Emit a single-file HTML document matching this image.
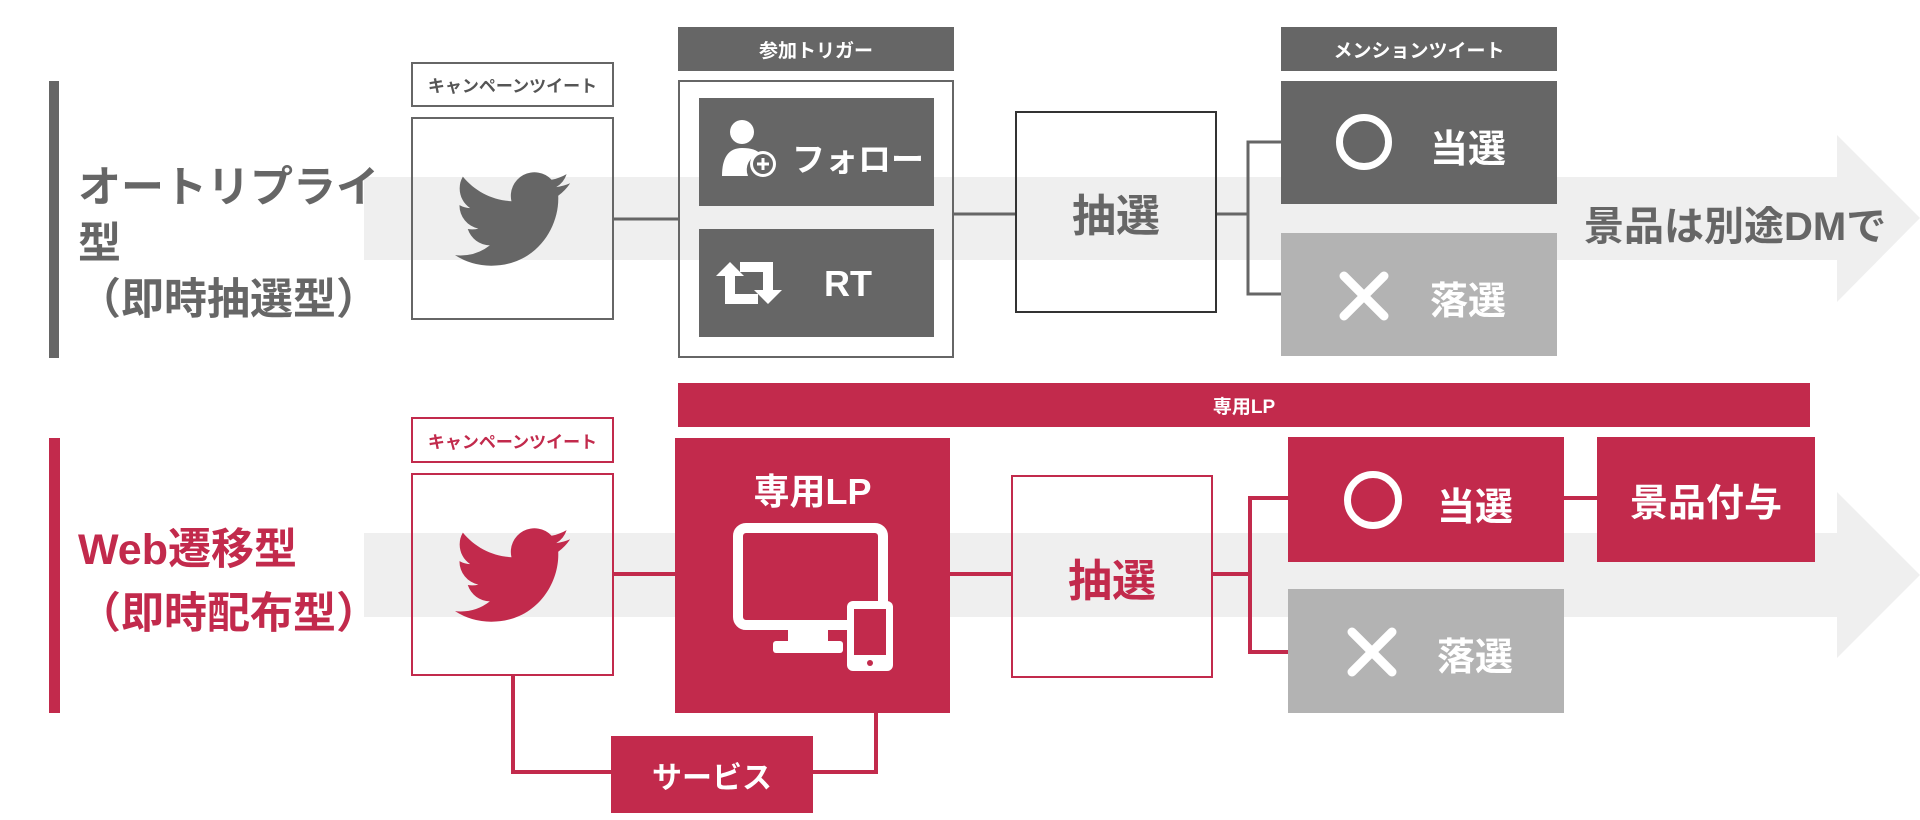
<!DOCTYPE html>
<html><head><meta charset="utf-8"><style>
*{margin:0;padding:0;box-sizing:border-box}
body{width:1920px;height:820px;background:#fff;position:relative;overflow:hidden;font-family:"Liberation Sans","Noto Sans CJK JP",sans-serif;font-weight:bold}
.a{position:absolute}
.c{display:flex;align-items:center;justify-content:center;color:#fff}
</style></head><body>
<svg class="a" style="left:0;top:0" width="1920" height="820">
<polygon points="364,177 1837,177 1837,135 1920,218 1837,302 1837,260 364,260" fill="#efefef"/>
<polygon points="364,533 1837,533 1837,492 1920,575 1837,658 1837,617 364,617" fill="#efefef"/>
<g stroke="#666" stroke-width="3" fill="none">
<line x1="614" y1="219" x2="678" y2="219"/>
<line x1="954" y1="214" x2="1015" y2="214"/>
<polyline points="1217,214 1248,214"/>
<polyline points="1281,142 1248,142 1248,294 1281,294"/>
</g>
<g stroke="#c22a4c" stroke-width="4" fill="none">
<line x1="614" y1="574" x2="675" y2="574"/>
<line x1="950" y1="574" x2="1011" y2="574"/>
<line x1="1213" y1="574" x2="1250" y2="574"/>
<polyline points="1288,498 1250,498 1250,652 1288,652"/>
<line x1="1564" y1="498" x2="1597" y2="498"/>
<polyline points="513,676 513,772 611,772"/>
<polyline points="876,713 876,772 813,772"/>
</g>
</svg>
<div class="a" style="left:49px;top:81px;width:10px;height:277px;background:#666"></div>
<div class="a" style="left:78px;top:160px;font-size:43px;color:#666;line-height:56px">オートリプライ<br>型<br>（即時抽選型）</div>
<div class="a" style="left:49px;top:438px;width:11px;height:275px;background:#c22a4c"></div>
<div class="a" style="left:78px;top:518px;font-size:43px;color:#c22a4c;line-height:64px">Web遷移型<br>（即時配布型）</div>

<div class="a c" style="left:411px;top:62px;width:203px;height:45px;border:2px solid #666;color:#555;font-size:17px">キャンペーンツイート</div>
<div class="a c" style="left:411px;top:117px;width:203px;height:203px;border:2px solid #666">
<svg width="115" height="100" viewBox="0 0 24 20"><path fill="#666" d="M23.953 2.57a10 10 0 01-2.825.775 4.958 4.958 0 002.163-2.723c-.951.555-2.005.959-3.127 1.184a4.92 4.92 0 00-8.384 4.482C7.69 6.095 4.067 4.13 1.64 1.162a4.822 4.822 0 00-.666 2.475c0 1.71.87 3.213 2.188 4.096a4.904 4.904 0 01-2.228-.616v.06a4.923 4.923 0 003.946 4.827 4.996 4.996 0 01-2.212.085 4.936 4.936 0 004.604 3.417 9.867 9.867 0 01-6.102 2.105c-.39 0-.779-.023-1.17-.067a13.995 13.995 0 007.557 2.209c9.053 0 13.998-7.496 13.998-13.985 0-.21 0-.42-.015-.63A9.935 9.935 0 0024 2.59z"/></svg></div>

<div class="a c" style="left:678px;top:27px;width:276px;height:44px;background:#666;font-size:19px">参加トリガー</div>
<div class="a" style="left:678px;top:80px;width:276px;height:278px;border:2.5px solid #666"></div>
<div class="a" style="left:699px;top:98px;width:235px;height:108px;background:#666"></div>
<svg class="a" style="left:720px;top:118px" width="60" height="62" viewBox="0 0 60 62"><circle cx="22" cy="14" r="12" fill="#fff"/><path d="M2 58 Q2 30 22 30 Q36 30 40 36 A16 16 0 0 0 28 58 Z" fill="#fff"/><circle cx="43" cy="46" r="13" fill="#fff"/><circle cx="43" cy="46" r="10" fill="#666"/><path d="M43 40v12M37 46h12" stroke="#fff" stroke-width="3"/></svg>
<div class="a" style="left:792px;top:133px;font-size:33px;color:#fff">フォロー</div>
<div class="a" style="left:699px;top:229px;width:235px;height:108px;background:#666"></div>
<svg class="a" style="left:714px;top:260px" width="70" height="46" viewBox="0 0 70 46"><path d="M16 2 L30 16 H21 V34 H44 V44 H11 V16 H2 Z" fill="#fff"/><path d="M54 44 L40 30 H49 V12 H26 V2 H59 V30 H68 Z" fill="#fff"/></svg>
<div class="a" style="left:824px;top:263px;font-size:36px;color:#fff">RT</div>

<div class="a c" style="left:1015px;top:111px;width:202px;height:202px;border:2px solid #333;color:#666;font-size:44px">抽選</div>

<div class="a c" style="left:1281px;top:27px;width:276px;height:44px;background:#666;font-size:19px">メンションツイート</div>
<div class="a" style="left:1281px;top:81px;width:276px;height:123px;background:#666"></div>
<div class="a" style="left:1336px;top:114px;width:56px;height:56px;border:7px solid #fff;border-radius:50%"></div>
<div class="a" style="left:1430px;top:118px;font-size:38px;color:#fff">当選</div>
<div class="a" style="left:1281px;top:233px;width:276px;height:123px;background:#b3b3b3"></div>
<svg class="a" style="left:1338px;top:270px" width="52" height="52"><path d="M6 6L46 46M46 6L6 46" stroke="#fff" stroke-width="9" stroke-linecap="round"/></svg>
<div class="a" style="left:1430px;top:270px;font-size:38px;color:#fff">落選</div>
<div class="a" style="left:1584px;top:194px;font-size:40px;color:#666">景品は別途DMで</div>

<div class="a c" style="left:678px;top:383px;width:1132px;height:44px;background:#c22a4c;font-size:19px">専用LP</div>

<div class="a c" style="left:411px;top:417px;width:203px;height:46px;border:2px solid #c22a4c;color:#c22a4c;font-size:17px">キャンペーンツイート</div>
<div class="a c" style="left:411px;top:473px;width:203px;height:203px;border:2px solid #c22a4c">
<svg width="115" height="100" viewBox="0 0 24 20"><path fill="#c22a4c" d="M23.953 2.57a10 10 0 01-2.825.775 4.958 4.958 0 002.163-2.723c-.951.555-2.005.959-3.127 1.184a4.92 4.92 0 00-8.384 4.482C7.69 6.095 4.067 4.13 1.64 1.162a4.822 4.822 0 00-.666 2.475c0 1.71.87 3.213 2.188 4.096a4.904 4.904 0 01-2.228-.616v.06a4.923 4.923 0 003.946 4.827 4.996 4.996 0 01-2.212.085 4.936 4.936 0 004.604 3.417 9.867 9.867 0 01-6.102 2.105c-.39 0-.779-.023-1.17-.067a13.995 13.995 0 007.557 2.209c9.053 0 13.998-7.496 13.998-13.985 0-.21 0-.42-.015-.63A9.935 9.935 0 0024 2.59z"/></svg></div>

<div class="a" style="left:675px;top:438px;width:275px;height:275px;background:#c22a4c"></div>
<div class="a" style="left:675px;top:463px;width:275px;text-align:center;font-size:36px;color:#fff">専用LP</div>
<svg class="a" style="left:733px;top:523px" width="162" height="150" viewBox="0 0 162 150">
<rect x="5" y="5" width="145" height="97" rx="8" fill="none" stroke="#fff" stroke-width="10"/>
<rect x="55" y="100" width="40" height="22" fill="#fff"/>
<rect x="40" y="118" width="70" height="12" rx="3" fill="#fff"/>
<rect x="114" y="78" width="46" height="70" rx="6" fill="#fff"/>
<rect x="121" y="86" width="32" height="46" fill="#c22a4c"/>
<circle cx="137" cy="140" r="3" fill="#c22a4c"/>
</svg>

<div class="a c" style="left:611px;top:736px;width:202px;height:77px;background:#c22a4c;font-size:30px">サービス</div>

<div class="a c" style="left:1011px;top:475px;width:202px;height:203px;border:2px solid #c22a4c;color:#c22a4c;font-size:44px">抽選</div>

<div class="a" style="left:1288px;top:437px;width:276px;height:125px;background:#c22a4c"></div>
<div class="a" style="left:1344px;top:471px;width:58px;height:58px;border:7px solid #fff;border-radius:50%"></div>
<div class="a" style="left:1437px;top:476px;font-size:38px;color:#fff">当選</div>
<div class="a c" style="left:1597px;top:437px;width:218px;height:125px;background:#c22a4c;font-size:38px">景品付与</div>
<div class="a" style="left:1288px;top:589px;width:276px;height:124px;background:#b3b3b3"></div>
<svg class="a" style="left:1346px;top:626px" width="52" height="52"><path d="M6 6L46 46M46 6L6 46" stroke="#fff" stroke-width="9" stroke-linecap="round"/></svg>
<div class="a" style="left:1437px;top:626px;font-size:38px;color:#fff">落選</div>
</body></html>
